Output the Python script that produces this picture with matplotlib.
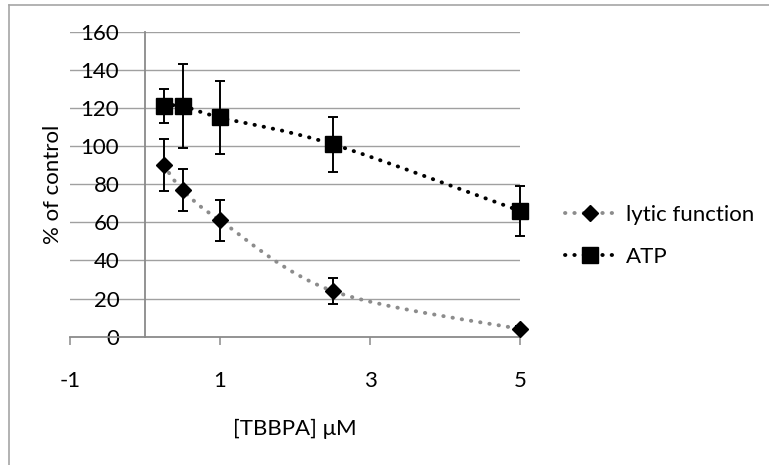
import numpy as np
import matplotlib
matplotlib.use('Agg')
import matplotlib.pyplot as plt
from matplotlib.path import Path
from matplotlib.patches import PathPatch
from matplotlib.lines import Line2D

plt.rcParams['font.family'] = ['Lato', 'DejaVu Sans']

# data
conc = [0.25, 0.5, 1, 2.5, 5]
lytic = [90, 77, 61, 24, 4]
lytic_err = [13.5, 11, 10.7, 6.7, 1.5]
atp = [121, 121, 115, 101, 66]
atp_err = [9, 22, 19, 14.5, 13]

y_ticks = [0, 20, 40, 60, 80, 100, 120, 140, 160]
x_ticks = [-1, 1, 3, 5]

GRID = '#a0a0a0'
AXIS = '#8a8a8a'
FS = 16


# Excel-like smoothed line (bezier through the points)
def smooth_path(xs, ys):
    pts = np.column_stack([xs, ys]).astype(float)
    n = len(pts)
    verts = [pts[0]]
    codes = [Path.MOVETO]
    for i in range(n - 1):
        p_prev = pts[i - 1] if i > 0 else pts[i]
        p_next2 = pts[i + 2] if i + 2 < n else pts[i + 1]
        c1 = pts[i] + (pts[i + 1] - p_prev) / 6
        c2 = pts[i + 1] - (p_next2 - pts[i]) / 6
        verts += [c1, c2, pts[i + 1]]
        codes += [Path.CURVE4] * 3
    return Path(verts, codes)


fig = plt.figure(figsize=(7.69, 4.65), dpi=100)
ax = fig.add_axes([70 / 769, 1 - 336.7 / 465, 450 / 769, 305 / 465])

# chart area border (only top/left visible)
fig.add_artist(Line2D([9 / 769, 9 / 769], [0, 1 - 5 / 465], transform=fig.transFigure, color='#a6a6a6', lw=1.2))
fig.add_artist(Line2D([9 / 769, 1], [1 - 5 / 465, 1 - 5 / 465], transform=fig.transFigure, color='#a6a6a6', lw=1.2))

ax.set_xlim(-1, 5)
ax.set_ylim(0, 160)

for yv in y_ticks[1:]:
    ax.axhline(yv, color=GRID, lw=1.0, zorder=0)

# smoothed dotted lines
for ys, col in [(lytic, '#8c8c8c'), (atp, 'black')]:
    patch = PathPatch(smooth_path(conc, ys), fill=False, edgecolor=col, lw=2.8,
                      linestyle=(0, (0.1, 2.3)), capstyle='round', zorder=2, clip_on=False)
    ax.add_patch(patch)

for ys, err in [(lytic, lytic_err), (atp, atp_err)]:
    eb = ax.errorbar(conc, ys, yerr=err, fmt='none', ecolor='black', elinewidth=1.4,
                     capsize=3.3, capthick=1.4, zorder=3)
    for art in eb.lines[1] + eb.lines[2]:
        art.set_clip_on(False)
ax.plot(conc, lytic, linestyle='none', marker='D', markersize=8.5, color='black', zorder=4, clip_on=False)
ax.plot(conc, atp, linestyle='none', marker='s', markersize=11.5, color='black', zorder=4, clip_on=False)

for s in ['top', 'right']:
    ax.spines[s].set_visible(False)
ax.spines['left'].set_position(('data', 0))
ax.spines['left'].set_color(AXIS)
ax.spines['bottom'].set_color(AXIS)
ax.spines['left'].set_linewidth(1.3)
ax.spines['bottom'].set_linewidth(1.3)

ax.set_yticks(y_ticks)
ax.set_xticks(x_ticks)
ax.set_xticklabels(['-1', '1', '3', '5'])
ax.tick_params(axis='y', length=0, pad=18.5, labelsize=FS, colors='black')
ax.tick_params(axis='x', length=5.5, width=1.1, color=AXIS, pad=19, labelsize=FS, labelcolor='black')

ax.set_xlabel('[TBBPA] μM', fontsize=FS, labelpad=20)
fig.text(53 / 769, 1 - 184 / 465, '% of control', rotation=90, ha='center', va='center', fontsize=FS)

handles = [
    Line2D([], [], color='#8c8c8c', lw=2.8, linestyle=(0, (0.1, 2.3)), dash_capstyle='round',
           marker='D', markersize=8.5, markerfacecolor='black', markeredgecolor='black'),
    Line2D([], [], color='black', lw=2.8, linestyle=(0, (0.1, 2.3)), dash_capstyle='round',
           marker='s', markersize=11.5, markerfacecolor='black', markeredgecolor='black'),
]
fig.legend(handles, ['lytic function', 'ATP'], loc='center left',
           bbox_to_anchor=(556 / 769, 1 - 236 / 465), frameon=False, fontsize=FS,
           handlelength=2.25, handletextpad=0.5, labelspacing=1.0, borderaxespad=0)

fig.savefig('out.png', dpi=100)
